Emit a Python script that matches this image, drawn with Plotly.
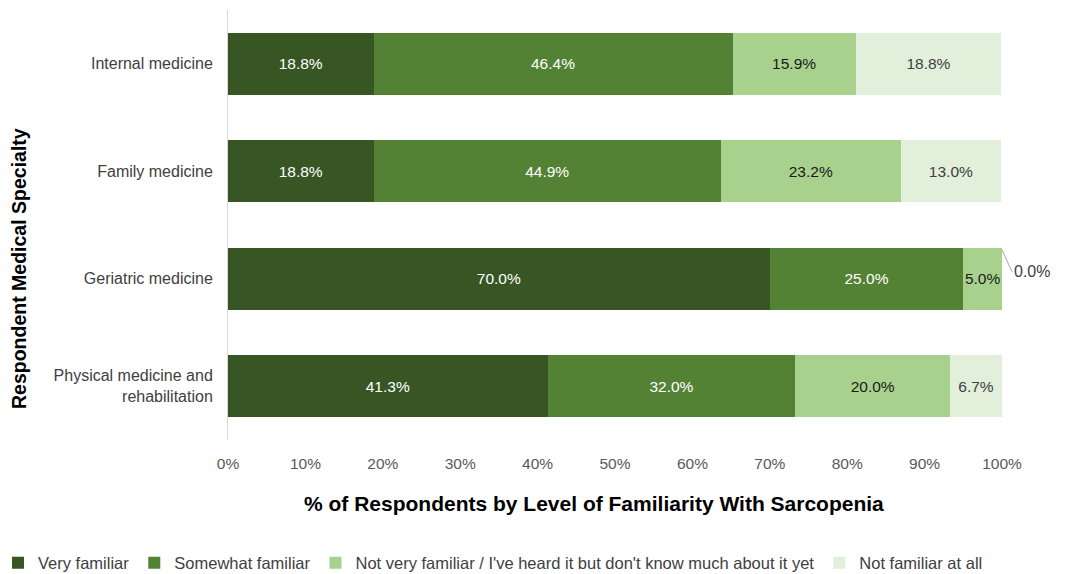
import plotly.graph_objects as go

specialties = ["Internal medicine", "Family medicine", "Geriatric medicine",
               "Physical medicine and<br>rehabilitation"]
levels = ["Very familiar", "Somewhat familiar",
          "Not very familiar / I've heard it but don't know much about it yet",
          "Not familiar at all"]
very_familiar = [18.8, 18.8, 70.0, 41.3]
somewhat_familiar = [46.4, 44.9, 25.0, 32.0]
not_very_familiar = [15.9, 23.2, 5.0, 20.0]
not_familiar_at_all = [18.8, 13.0, 0.0, 6.7]
x_ticks = [0, 10, 20, 30, 40, 50, 60, 70, 80, 90, 100]

series = [very_familiar, somewhat_familiar, not_very_familiar, not_familiar_at_all]
colors = ["#375623", "#548235", "#A9D18E", "#E2EFDA"]
text_colors = ["white", "white", "#1a1a1a", "#404040"]

FONT = "Liberation Sans, Arial"

fig = go.Figure()
for name, vals, col, tcol in zip(levels, series, colors, text_colors):
    fig.add_trace(go.Bar(
        y=specialties, x=vals, name=name, orientation="h",
        marker=dict(color=col, line=dict(width=0)),
        text=[f"{v:.1f}%" if v > 0 else "" for v in vals],
        textposition="inside", insidetextanchor="middle", textangle=0,
        constraintext="none",
        insidetextfont=dict(color=tcol, size=15.5, family=FONT),
        width=0.58, hoverinfo="skip",
    ))

# zero-value callout
for i, v in enumerate(not_familiar_at_all):
    if v == 0:
        fig.add_annotation(
            x=sum(s[i] for s in series), y=specialties[i], xref="x", yref="y",
            text=f"{v:.1f}%", showarrow=True, arrowhead=0, arrowwidth=1,
            arrowcolor="#A6A6A6", ax=10, ay=22, xanchor="left", yshift=29,
            font=dict(size=16, color="#404040", family=FONT),
        )

fig.add_annotation(
    text="<b>% of Respondents by Level of Familiarity With Sarcopenia</b>",
    xref="paper", yref="paper", x=(594 - 228) / 774, y=(440 - 503) / 430,
    showarrow=False, xanchor="center", yanchor="middle",
    font=dict(size=21, color="#000000", family=FONT),
)
fig.add_annotation(
    text="<b>Respondent Medical Specialty</b>", textangle=-90,
    xref="paper", yref="paper", x=(19 - 228) / 774, y=(440 - 269) / 430,
    showarrow=False, xanchor="center", yanchor="middle",
    font=dict(size=19.5, color="#000000", family=FONT),
)

fig.update_layout(
    barmode="stack",
    width=1065, height=574,
    margin=dict(l=228, r=63, t=10, b=134, autoexpand=False),
    plot_bgcolor="white", paper_bgcolor="white",
    font=dict(family=FONT, color="#404040"),
    showlegend=True,
    legend=dict(orientation="h", x=(-2 - 228) / 774, xanchor="left",
                y=(440 - 563) / 430, yanchor="middle",
                font=dict(size=16.5, color="#404040"), traceorder="normal",
                itemclick=False, itemdoubleclick=False),
    xaxis=dict(range=[0, 100], tickvals=x_ticks,
               ticktext=[f"{t}%" for t in x_ticks],
               showgrid=False, zeroline=False, showline=False,
               tickfont=dict(size=15.5, color="#595959"), ticks="",
               ticklabelstandoff=12),
    yaxis=dict(autorange="reversed", showgrid=False, showline=True,
               linecolor="#D9D9D9", linewidth=1, ticks="",
               tickfont=dict(size=16, color="#404040"), ticklabelstandoff=11),
)

fig.write_html("out.html")
